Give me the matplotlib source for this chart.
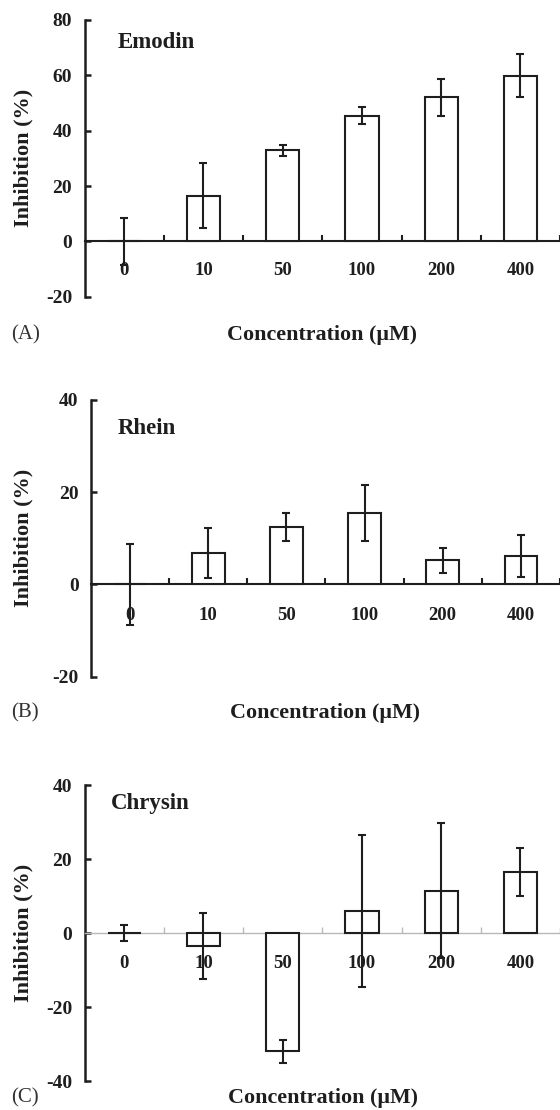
import matplotlib
matplotlib.use('Agg')
from matplotlib import pyplot as plt
from matplotlib import transforms
import numpy as np

plt.rcParams['font.family'] = ['Liberation Serif', 'DejaVu Serif']

# 数据
cats = ['0', '10', '50', '100', '200', '400']
emodin_mean = [0, 16.5, 32.9, 45.4, 52.0, 59.9]
emodin_err = [8.6, 11.8, 1.9, 3.0, 6.7, 7.9]
rhein_mean = [0, 6.8, 12.5, 15.5, 5.2, 6.2]
rhein_err = [8.8, 5.5, 3.0, 6.0, 2.8, 4.6]
chrysin_mean = [0, -3.5, -32.0, 6.0, 11.4, 16.5]
chrysin_err = [2.2, 8.8, 3.0, 20.6, 18.2, 6.5]

W, H = 560, 1110
fig = plt.figure(figsize=(W / 100, H / 100), dpi=100)
ink = '#1e1e1e'


def px(x0, y_top, x1, y_bot):
    # 像素 -> 图坐标
    return [x0 / W, 1 - y_bot / H, (x1 - x0) / W, (y_bot - y_top) / H]


def panel(rect, mean, err, ylim, yticks, name, name_xy, tag, tag_y, xlab_x, lab_off,
          zero_color=ink):
    ax = fig.add_axes(px(*rect))
    x = np.arange(len(cats))
    ax.bar(x, mean, width=0.42, color='white', edgecolor=ink, linewidth=1.5, zorder=3)
    ax.errorbar(x, mean, yerr=err, fmt='none', ecolor=ink, elinewidth=1.5,
                capsize=3.2, capthick=1.5, zorder=4)
    ax.set_xlim(-0.5, 5.5)
    ax.set_ylim(*ylim)
    ax.set_yticks(yticks)
    ax.set_yticklabels([str(t) for t in yticks], fontsize=14, fontweight='bold')
    ax.set_xticks([])
    ax.set_xticks(x + 0.5, minor=True)
    ax.spines['top'].set_visible(False)
    ax.spines['right'].set_visible(False)
    ax.spines['bottom'].set_position(('data', 0))
    ax.spines['bottom'].set_color(zero_color)
    ax.spines['bottom'].set_linewidth(1.5 if zero_color == ink else 1.0)
    ax.spines['left'].set_linewidth(1.8)
    ax.spines['left'].set_color(ink)
    ax.tick_params(axis='y', direction='in', length=4.5, width=1.8, pad=9, colors=ink)
    ax.tick_params(axis='x', which='minor', direction='in', length=4,
                   width=1.5 if zero_color == ink else 1.0, color=zero_color)
    ax.patch.set_visible(False)

    # 类别标签，画在柱子上面、误差线下面
    tr = transforms.offset_copy(ax.transData, fig=fig, y=-lab_off, units='dots')
    for i, c in enumerate(cats):
        ax.text(i, 0, c, transform=tr, fontsize=13.5, fontweight='bold', ha='center',
                va='center', color=ink, zorder=3.5)

    fig.text(name_xy[0] / W, 1 - name_xy[1] / H, name, fontsize=16.5, fontweight='bold',
             ha='left', va='center', color=ink)
    fig.text(23 / W, 1 - (rect[1] + rect[3]) / 2 / H, 'Inhibition (%)', rotation=90,
             fontsize=16, fontweight='bold', ha='center', va='center', color=ink)
    fig.text(11 / W, 1 - tag_y / H, tag, fontsize=15, ha='left', va='center', color='#333333')
    fig.text(xlab_x / W, 1 - tag_y / H, 'Concentration (\u00b5M)', fontsize=15.8,
             fontweight='bold', ha='center', va='center', color=ink)
    return ax


panel((84.6, 20, 560, 296.7), emodin_mean, emodin_err, (-20, 80), [-20, 0, 20, 40, 60, 80],
      'Emodin', (118, 43), '(A)', 335, 322, 29)
panel((91, 400, 560, 676.7), rhein_mean, rhein_err, (-20, 40), [-20, 0, 20, 40],
      'Rhein', (118, 429), '(B)', 713, 325, 31)
panel((84.6, 785, 560, 1081), chrysin_mean, chrysin_err, (-40, 40), [-40, -20, 0, 20, 40],
      'Chrysin', (111, 803), '(C)', 1098, 323, 30, zero_color='#b8b8b8')

fig.savefig('out.png', dpi=100)
